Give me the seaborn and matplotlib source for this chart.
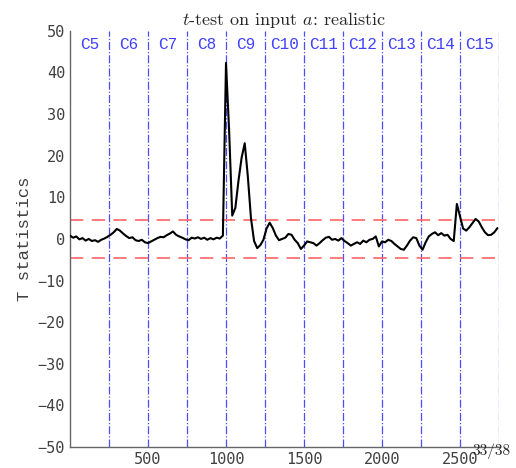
import numpy as np
import pandas as pd
import matplotlib
matplotlib.use("Agg")
import matplotlib.pyplot as plt
import seaborn as sns

sns.set_style("white")
plt.rcParams["mathtext.fontset"] = "cm"
plt.rcParams["font.family"] = ["DejaVu Sans Mono", "DejaVu Sans"]

# sample positions (step 20) and T statistic values
t_index = list(range(0, 2760, 20))
t_stat = [
    0.8, 0.3, 0.6, -0.1, 0.2, -0.4, 0.0, -0.5, -0.3, -0.7, -0.2, 0.1, 0.5,
    1.0, 1.6, 2.4, 2.0, 1.3, 0.7, 0.2, 0.4, -0.3, -0.5, -0.2, -0.8, -1.0,
    -0.6, -0.2, 0.2, 0.5, 0.4, 0.9, 1.3, 1.8, 1.0, 0.6, 0.3, -0.1,
    -0.3, 0.3, 0.1, 0.4, 0.0, 0.3, -0.2, 0.2, -0.1, 0.3, 0.1, 0.8,
    42.3, 26.0, 5.6, 7.5, 14.0, 19.5, 23.0, 15.0, 5.0, -0.5, -2.2, -1.5, -0.2,
    2.5, 3.9, 2.6, 0.8, -0.3, 0.0, 0.3, 1.2, 1.0, -0.2, -1.0, -2.4, -1.6, -0.6,
    -0.8, -1.0, -1.6, -1.0, -0.3, 0.3, 0.5, -0.2, 0.0, -0.4, 0.2,
    -0.5, -1.0, -1.6, -1.2, -0.8, -1.2, -0.4, -0.8, -0.2, 0.0, 0.6, -1.8,
    -0.6, -0.8, -0.2, -0.5, -1.2, -1.8, -2.4, -2.6, -1.6, -0.4, 0.4, 0.2,
    -1.6, -2.6, -0.8, 0.6, 1.2, 1.6, 0.9, 1.4, 0.8, 1.0, 0.0, -0.5,
    8.4, 5.5, 2.5, 2.0, 2.8, 3.8, 4.8, 4.2, 2.8, 1.6, 0.9, 1.0, 1.6, 2.6,
]
boundaries = [250, 500, 750, 1000, 1250, 1500, 1750, 2000, 2250, 2500, 2750]
cycle_labels = ["C5", "C6", "C7", "C8", "C9", "C10", "C11", "C12", "C13", "C14", "C15"]
cycle_centers = [125, 375, 625, 875, 1125, 1375, 1625, 1875, 2125, 2375, 2625]
threshold = 4.5
x_ticks = [500, 1000, 1500, 2000, 2500]
y_ticks = [-50, -40, -30, -20, -10, 0, 10, 20, 30, 40, 50]

df = pd.DataFrame({"x": t_index, "t": t_stat})

fig = plt.figure(figsize=(5.16, 4.68), dpi=100)
ax = fig.add_axes([0.1357, 0.0449, 0.8313, 0.8891])

for b in boundaries:
    ax.axvline(b, color=(0.3, 0.3, 1.0), lw=0.9, ls="-.", zorder=1)
for yv in (threshold, -threshold):
    ax.axhline(yv, color=(1.0, 0.4, 0.4), lw=1.2, ls=(0, (8, 5)), zorder=1)

sns.lineplot(data=df, x="x", y="t", ax=ax, color="black", lw=1.5, zorder=3)

for lab, cx in zip(cycle_labels, cycle_centers):
    ax.text(cx, 46.8, lab, color=(0.25, 0.25, 1.0), ha="center", va="center",
            fontsize=11.5, family=["Liberation Mono", "DejaVu Sans Mono"])

ax.set_xlim(0, 2750)
ax.set_ylim(-50, 50)
ax.set_xticks(x_ticks)
ax.set_yticks(y_ticks)
ax.set_xlabel("")
ax.set_ylabel("T statistics", fontsize=12.5, family=["Liberation Mono", "DejaVu Sans Mono"],
              color=(0.25, 0.25, 0.25))
ax.tick_params(axis="both", direction="in", length=4, colors=(0.3, 0.3, 0.3),
               labelsize=11, labelcolor=(0.25, 0.25, 0.25))
for s in ("top", "right"):
    ax.spines[s].set_visible(False)
for s in ("left", "bottom"):
    ax.spines[s].set_color((0.4, 0.4, 0.4))
    ax.spines[s].set_linewidth(1.0)

ax.set_title(r"$t$-test on input $a$: realistic", fontsize=13, pad=4,
             family=["cmr10", "DejaVu Serif"])
fig.text(0.953, 0.036, "33/38", ha="center", va="center", fontsize=11,
         family=["cmr10", "DejaVu Serif"])

fig.savefig("out.png", dpi=100)
